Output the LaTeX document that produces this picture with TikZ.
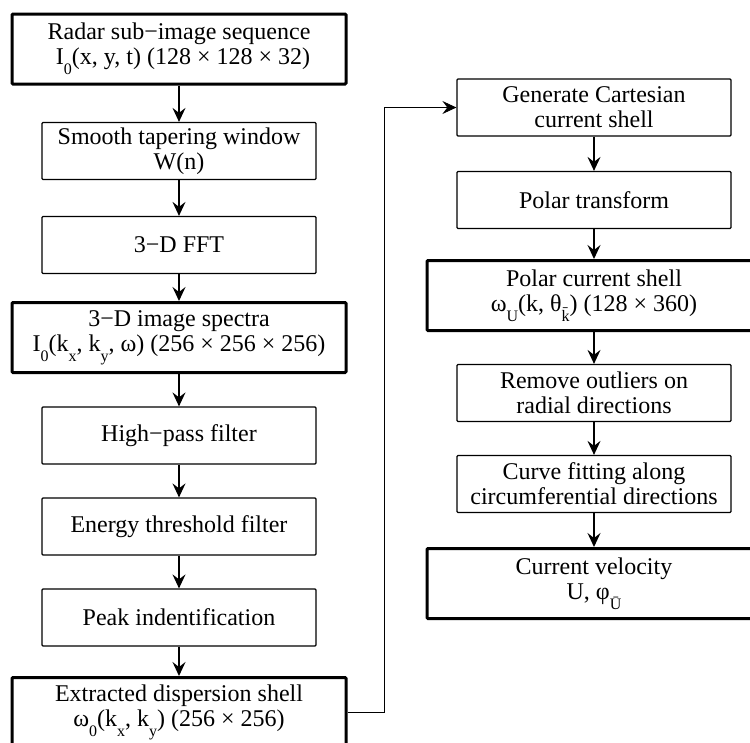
\documentclass[tikz,border=0pt]{standalone}
\usepackage{fontspec}
\setmainfont{Liberation Serif}
\usetikzlibrary{arrows.meta}
\newcommand{\dn}[1]{\raisebox{-0.4em}{\fontsize{16}{16}\selectfont #1}}

\begin{document}
\begin{tikzpicture}[x=1pt,y=-1pt,
		box/.style={draw, line width=1.2pt, rounded corners=1pt, align=center,
			font=\fontsize{24}{25}\selectfont, inner sep=0pt,
			minimum width=274pt, minimum height=57pt},
		bigbox/.style={box, line width=3pt, minimum width=334pt, minimum height=70pt},
		conn/.style={-{Stealth[length=14pt,width=13pt,inset=5pt]}, line width=1.5pt}]
				\useasboundingbox (0,0) rectangle (750,742);
				\clip (0,0) rectangle (750,742);

				\node[bigbox] (seq) at (179,49) {Radar sub−image sequence\\\hspace{8pt}I\dn{0}(x, y, t) (128 × 128 × 32)};
				\node[box] (win) at (179,151) {Smooth tapering window\\W(n)};
				\node[box] (fft) at (179,245) {3−D FFT};
				\node[bigbox] (spec) at (179,337.5) {3−D image spectra\\I\dn{0}(k\dn{x}, k\dn{y}, ω) (256 × 256 × 256)};
				\node[box] (hpf) at (179,435.5) {High−pass filter};
				\node[box] (etf) at (179,526.5) {Energy threshold filter};
				\node[box] (peak) at (179,617.5) {Peak indentification};
				\node[bigbox] (disp) at (179,712.5) {Extracted dispersion shell\\ω\dn{0}(k\dn{x}, k\dn{y}) (256 × 256)};

				\node[box] (cart) at (594,107.5) {Generate Cartesian\\current shell};
				\node[box] (polt) at (594,200) {Polar transform};
				\node[bigbox] (pols) at (594,295.5) {Polar current shell\\ω\dn{U}(k, θ\dn{\={k}}) (128 × 360)};
				\node[box] (outl) at (594,393) {Remove outliers on\\radial directions};
				\node[box] (fit) at (594,484) {Curve fitting along\\circumferential directions};
				\node[bigbox] (vel) at (594,583.5) {Current velocity\\U, φ\dn{Ū}};

				\draw[conn] (seq) -- (win);
				\draw[conn] (win) -- (fft);
				\draw[conn] (fft) -- (spec);
				\draw[conn] (spec) -- (hpf);
				\draw[conn] (hpf) -- (etf);
				\draw[conn] (etf) -- (peak);
				\draw[conn] (peak) -- (disp);

				\draw[conn, line width=0.8pt] (disp.east) -- ++(37,0) |- (cart.west);

				\draw[conn] (cart) -- (polt);
				\draw[conn] (polt) -- (pols);
				\draw[conn] (pols) -- (outl);
				\draw[conn] (outl) -- (fit);
				\draw[conn] (fit) -- (vel);
			\end{tikzpicture}
\end{document}
